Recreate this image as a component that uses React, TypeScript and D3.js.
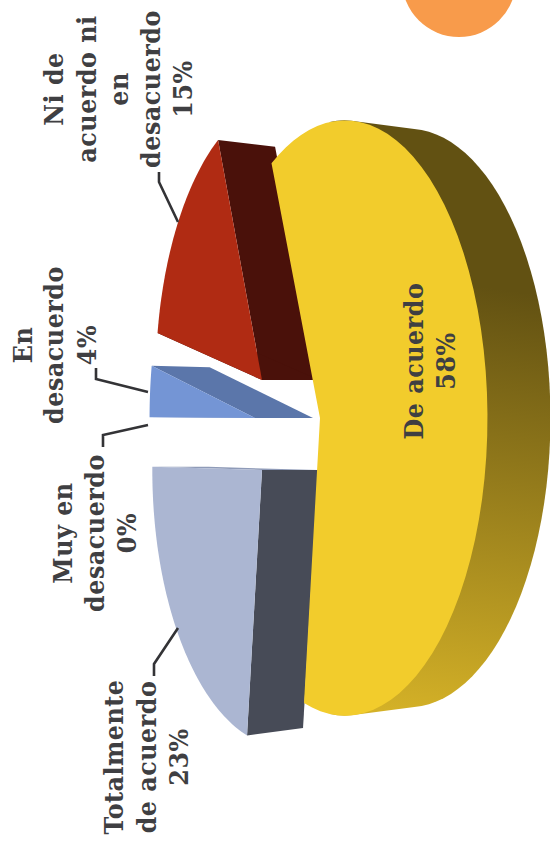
import React from "react";
import * as d3 from "d3";

// ---------- data ----------
const categories = ["De acuerdo", "Totalmente de acuerdo", "Muy en desacuerdo", "En desacuerdo", "Ni de acuerdo ni en desacuerdo"];
const shares = [58, 23, 0, 4, 15];

const labelLines = [
  ["De acuerdo", "58%"],
  ["Totalmente", "de acuerdo", "23%"],
  ["Muy en", "desacuerdo", "0%"],
  ["En", "desacuerdo", "4%"],
  ["Ni de", "acuerdo ni", "en", "desacuerdo", "15%"],
];

// ---------- layout / style ----------
const START_DEG = -112;
const PERSPECTIVE = 0.176;
const DEPTH_SHRINK = 0.972;
const WIDTH = 550;
const HEIGHT = 849;
const INK = "#3f3f42";
const FONT = "'DejaVu Serif Condensed','DejaVu Serif',serif";

type Geo = { cx: number; cy: number; a: number; b: number; depth: number; adjStart: number; adjEnd: number };
const geos: Geo[] = [
  { cx: 320, cy: 418, a: 138, b: 293, depth: 63, adjStart: 0, adjEnd: 0 },
  { cx: 262, cy: 470, a: 129, b: 273, depth: 56, adjStart: 0, adjEnd: 1.2 },
  { cx: 255, cy: 418, a: 126, b: 283, depth: 58, adjStart: 0, adjEnd: 0 },
  { cx: 255, cy: 418, a: 124, b: 283, depth: 58, adjStart: 0.6, adjEnd: -1.5 },
  { cx: 262, cy: 380, a: 125, b: 276, depth: 57, adjStart: -2.5, adjEnd: 0 },
];
const topColors = ["#f2cc2c", "#abb6d2", "#abb6d2", "#7495d5", "#b02b13"];
const endSideColors = ["#000", "#8f9bb8", "#8f9bb8", "#5b76aa", "#4a110a"];
const startSideColors = ["#000", "#474b57", "#474b57", "#5b76aa", "#4a110a"];

const labelPlacement = [
  { y: 361, x: [423, 455] },
  { y: 757, x: [123, 156, 188] },
  { y: 533, x: [72, 104, 136] },
  { y: 345, x: [32, 63, 96] },
  { y: 89, x: [63, 96, 128, 160, 192] },
];
const leaders: [number, number][][] = [
  [[154, 676], [154, 664], [178, 628]],
  [[103, 447], [103, 435], [148, 425]],
  [[96, 368], [96, 379], [148, 392]],
  [[159, 172], [159, 182], [178, 222]],
];

type P = [number, number];
const rad = (d: number) => (d * Math.PI) / 180;

function project(g: Geo, t: number, back = false, r = 1): P {
  const X = r * Math.cos(rad(t));
  const Y = r * Math.sin(rad(t));
  const w = 1 - PERSPECTIVE * X;
  const shrink = back ? DEPTH_SHRINK : 1;
  return [g.cx + (back ? g.depth : 0) + (g.a * X) / w, g.cy + (g.b * shrink * Y) / w];
}
function apex(g: Geo, back = false): P {
  return [g.cx + (back ? g.depth : 0), g.cy];
}
const lineGen = d3.line<P>().x((d) => d[0]).y((d) => d[1]);
const closed = (pts: P[]) => lineGen(pts)! + "Z";
const arcSamples = (s: number, e: number) => d3.range(0, 61).map((i) => s + ((e - s) * i) / 60);

export default function App() {
  const arcs = d3
    .pie<number>()
    .sort(null)
    .startAngle(rad(START_DEG))
    .endAngle(rad(START_DEG + 360))(shares);
  const deg = (v: number) => (v * 180) / Math.PI;
  const ranges = arcs.map((p, i) => ({
    s: deg(p.startAngle) + geos[i].adjStart,
    e: deg(p.endAngle) + geos[i].adjEnd,
  }));

  const yg = geos[0];
  const yr = ranges[0];
  const wall = d3.polygonHull(
    arcSamples(-86, 86).flatMap((t) => [project(yg, t), project(yg, t, true)])
  )!;
  const yellowFace: P[] = [apex(yg), ...arcSamples(yr.s, yr.e).map((t) => project(yg, t))];

  const drawOrder = [4, 3, 1];
  return (
    <svg width={WIDTH} height={HEIGHT} style={{ position: "absolute", left: 0, top: 0, background: "#fff" }}>
      <defs>
        <linearGradient id="wallFill" gradientUnits="userSpaceOnUse" x1={505} y1={290} x2={445} y2={720}>
          <stop offset="0" stopColor="#625112" />
          <stop offset="1" stopColor="#d4b127" />
        </linearGradient>
      </defs>
      <circle cx={459} cy={-20} r={57} fill="#f89b4b" />

      {drawOrder.map((i) => {
        const g = geos[i];
        const { s, e } = ranges[i];
        return (
          <g key={categories[i]}>
            <path d={closed([project(g, e), project(g, e, true), apex(g, true), apex(g)])} fill={endSideColors[i]} />
            <path d={closed([project(g, s), project(g, s, true), apex(g, true), apex(g)])} fill={startSideColors[i]} />
            <path d={closed([apex(g), ...arcSamples(s, e).map((t) => project(g, t))])} fill={topColors[i]} />
          </g>
        );
      })}

      <path d={closed(wall as P[])} fill="url(#wallFill)" />
      <path d={closed(yellowFace)} fill={topColors[0]} />

      {leaders.map((pts, i) => (
        <path key={i} d={lineGen(pts)!} fill="none" stroke="#333336" strokeWidth={2.6} />
      ))}

      {labelLines.map((lines, i) =>
        lines.map((line, j) => (
          <text
            key={i + "-" + j}
            transform={`translate(${labelPlacement[i].x[j]},${labelPlacement[i].y}) rotate(-90)`}
            textAnchor="middle"
            fontFamily={FONT}
            fontWeight={700}
            fontSize={26.5}
            letterSpacing={0.5}
            fill={INK}
          >
            {line}
          </text>
        ))
      )}
    </svg>
  );
}
